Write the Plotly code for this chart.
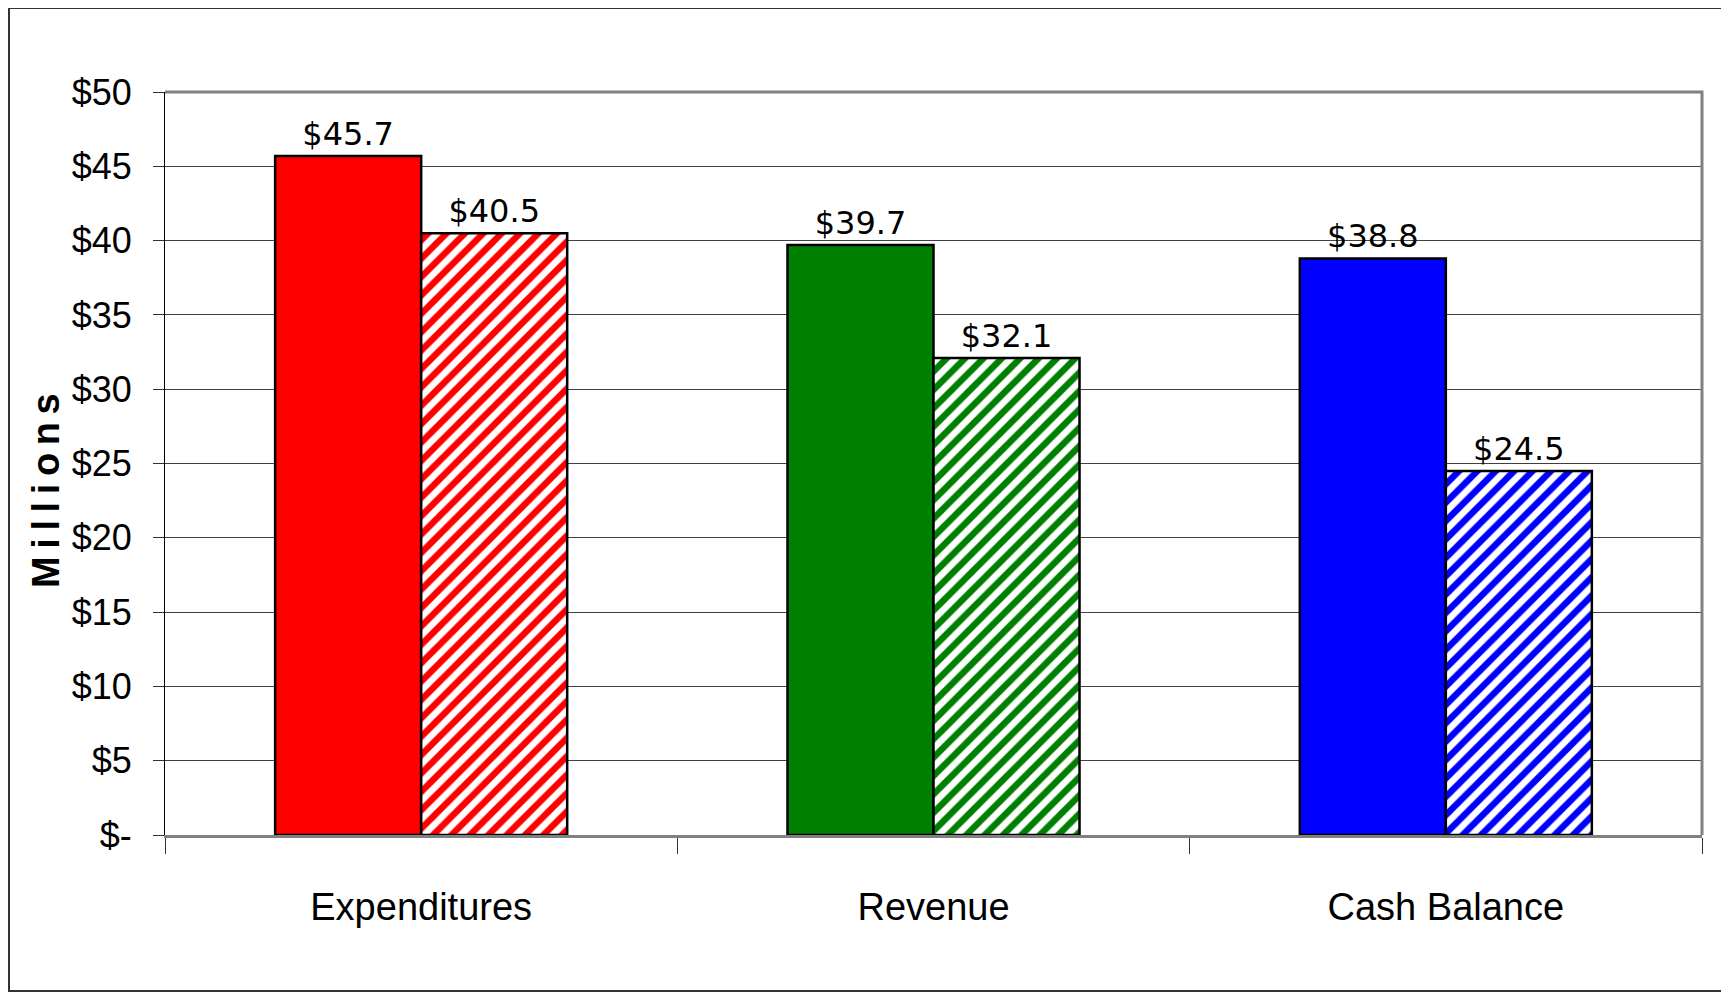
import plotly.graph_objects as go

# ---- data ----
categories = ["Expenditures", "Revenue", "Cash Balance"]
current_values = [45.7, 39.7, 38.8]
prior_values = [40.5, 32.1, 24.5]
bar_colors = ["#FF0000", "#008000", "#0000FF"]
y_tick_values = [0, 5, 10, 15, 20, 25, 30, 35, 40, 45, 50]
y_tick_labels = ["$-", "$5", "$10", "$15", "$20", "$25", "$30", "$35", "$40", "$45", "$50"]
y_title = "Millions"

# ---- layout constants (page pixels; the page body has an 8px margin) ----
OFF = 8
W, H = 1729 - OFF, 994 - OFF
L, R, T, B = 165 - OFF, 1702 - OFF, 92 - OFF, 835 - OFF
pw, ph = R - L, B - T

def px_to_paper_x(px):
    return (px - OFF - L) / pw

def px_to_paper_y(py):
    return (B - (py - OFF)) / ph

arial = "Liberation Sans, Arial, sans-serif"

fig = go.Figure()
fig.add_trace(go.Bar(
    name="Current",
    x=categories, y=current_values,
    marker=dict(color=bar_colors, line=dict(color="black", width=2.5)),
    texttemplate="$%{y:.1f}", textposition="outside",
    textfont=dict(family="DejaVu Sans", size=32, color="black"),
    cliponaxis=False,
))
fig.add_trace(go.Bar(
    name="Prior",
    x=categories, y=prior_values,
    marker=dict(color="white", line=dict(color="black", width=2.5),
                pattern=dict(shape="/", fgcolor=bar_colors, bgcolor="white",
                             fgopacity=1, size=13, solidity=0.5)),
    texttemplate="$%{y:.1f}", textposition="outside",
    textfont=dict(family="DejaVu Sans", size=32, color="black"),
    cliponaxis=False,
))

fig.update_layout(
    width=W, height=H,
    margin=dict(l=L, r=W - R, t=T, b=H - B, pad=0, autoexpand=False),
    paper_bgcolor="white", plot_bgcolor="white",
    showlegend=False,
    barmode="group", bargap=0.43, bargroupgap=0,
    xaxis=dict(
        type="category", tickson="boundaries",
        ticks="outside", ticklen=16, tickcolor="#333", tickwidth=1,
        showline=True, linecolor="#808080", linewidth=3,
        showgrid=False,
        tickfont=dict(family=arial, size=38, color="black"),
        ticklabelstandoff=36,
    ),
    yaxis=dict(
        range=[0, 50], tickvals=y_tick_values, ticktext=y_tick_labels,
        ticks="outside", ticklen=11, tickcolor="#333", tickwidth=1,
        showline=True, linecolor="black", linewidth=1,
        showgrid=True, gridcolor="#404040", gridwidth=1,
        zeroline=False,
        tickfont=dict(family=arial, size=36, color="black"),
        ticklabelstandoff=14,
    ),
    annotations=[
        dict(text="\u2009".join(y_title), textangle=-90,
             xref="paper", yref="paper",
             x=px_to_paper_x(46), y=px_to_paper_y(490),
             xanchor="center", yanchor="middle", showarrow=False,
             font=dict(family=arial, size=38, color="black", weight="bold")),
    ],
    shapes=[
        # plot area border (top and right, grey)
        dict(type="path", xref="paper", yref="paper",
             path="M 0 1 L 1 1 L 1 0", line=dict(color="#808080", width=3), layer="above"),
        # outer chart frame
        dict(type="rect", xref="paper", yref="paper",
             x0=px_to_paper_x(9), x1=px_to_paper_x(1722), y0=px_to_paper_y(991), y1=px_to_paper_y(8),
             line=dict(color="#333333", width=2), layer="below"),
    ],
)

fig.write_html("out.html")
